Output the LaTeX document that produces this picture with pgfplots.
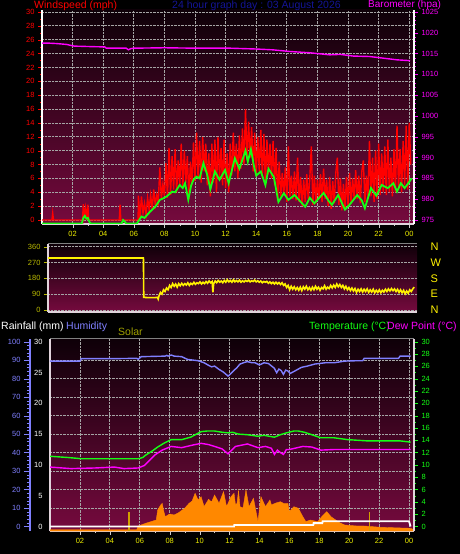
\documentclass[border=0pt]{standalone}
\usepackage{pgfplots}
\pgfplotsset{compat=1.18}
\usepackage{fontspec}
\setmainfont{Liberation Sans}
\definecolor{bgtop}{RGB}{14,0,8}
\definecolor{bgbot}{RGB}{118,10,62}
\definecolor{windred}{RGB}{255,0,0}
\definecolor{windgreen}{RGB}{20,255,20}
\definecolor{baro}{RGB}{255,0,255}
\definecolor{xlab}{RGB}{235,235,0}
\definecolor{dirlab}{RGB}{185,185,0}
\definecolor{humid}{RGB}{128,128,255}
\definecolor{solar}{RGB}{255,136,0}
\definecolor{solarlab}{RGB}{160,160,0}
\definecolor{uvbar}{RGB}{210,160,0}
\definecolor{titleblue}{RGB}{20,20,150}
\definecolor{gridc}{RGB}{165,165,165}
\definecolor{frame}{RGB}{225,212,220}
\pgfplotsset{
  base/.style={scale only axis, anchor=south west,
    tick label style={font=\fontsize{7.5}{8}\selectfont},
    /pgf/number format/assume math mode=true,
    /pgf/number format/1000 sep={},
    tick align=outside, major tick length=4pt, minor tick length=2pt},
  bg/.style={axis background/.style={shade, top color=bgtop, bottom color=bgbot}},
  gridst/.style={grid style={densely dotted, gridc, line width=0.8pt}},
  hours/.style={xtick={2,4,...,24}, xticklabels={02,04,06,08,10,12,14,16,18,20,22,00},
    minor x tick num=1, xticklabel style={xlab}, xtick style={gray!40!white}},
}
\begin{document}
\begin{tikzpicture}
\fill[black] (0,0) rectangle (460pt,554pt);
\useasboundingbox (0,0) rectangle (460pt,554pt);

% ---------------- Panel 1: wind ----------------
\begin{axis}[base, bg, gridst, hours, at={(42pt,330pt)}, width=372pt, height=214pt,
  xmin=0, xmax=24.31, ymin=-0.577, ymax=30.288,
  axis x line*=bottom, axis y line*=left,
  x axis line style={frame, line width=1.3pt},
  y axis line style={white, line width=1.5pt},
  ytick={0,2,...,30}, minor y tick num=1,
  yticklabel style={windred}, ytick style={windred},
  xmajorgrids, ymajorgrids]
\addplot[windred, line width=1.4pt] coordinates {
(0,0)(0.65,0)(0.7,1.0)(0.75,0)(2.65,0)(2.7,2.3)(2.75,0.4)(2.85,1.8)(2.95,0)(3.0,2.2)(3.05,0)
(5.05,0)(5.1,2.2)(5.15,0)(6.28,0)
(6.3,3.5)(6.4,0.3)(6.5,3.4)(6.6,1.0)(6.7,2.4)(6.8,0.8)(6.9,3.2)(7.0,1.5)(7.1,3.6)(7.2,1.6)
(7.3,4.4)(7.4,2.2)(7.5,3.6)(7.6,2.6)(7.7,7.6)(7.8,3.0)(7.9,5.2)(8.0,3.4)(8.1,8.2)(8.2,3.2)
(8.3,10.4)(8.4,3.6)(8.5,9.2)(8.6,4.4)(8.7,10.2)(8.8,4.0)(8.9,8.6)(9.0,5.0)(9.1,11.0)(9.2,4.6)
(9.3,10.0)(9.4,5.4)(9.5,9.2)(9.6,3.0)(9.7,8.4)(9.8,5.0)(9.9,11.2)(10.0,5.6)(10.1,12.6)(10.2,6.0)
(10.3,11.4)(10.4,5.4)(10.5,12.0)(10.6,7.0)(10.7,11.0)(10.8,5.0)(10.9,9.6)(11.0,3.4)(11.1,11.0)(11.2,5.4)
(11.3,11.6)(11.4,4.0)(11.5,12.0)(11.6,6.0)(11.7,10.4)(11.8,5.0)(11.9,11.6)(12.0,4.6)(12.1,9.6)(12.2,4.0)
(12.3,11.0)(12.4,6.4)(12.5,12.6)(12.6,7.0)(12.7,11.0)(12.8,6.0)(12.9,12.2)(13.0,7.4)(13.1,13.2)(13.2,8.0)
(13.3,16.0)(13.4,8.6)(13.5,14.2)(13.6,9.0)(13.7,13.4)(13.8,7.0)(13.9,12.6)(14.0,6.4)(14.1,12.0)(14.2,7.0)
(14.3,13.0)(14.4,6.0)(14.5,12.4)(14.6,5.0)(14.7,11.6)(14.8,6.6)(14.9,11.0)(15.0,6.0)(15.1,11.4)(15.2,5.0)
(15.3,10.4)(15.4,2.8)(15.5,8.4)(15.6,3.4)(15.7,6.8)(15.8,3.6)(15.9,7.6)(16.0,2.6)(16.1,10.6)(16.2,3.4)
(16.3,6.4)(16.4,3.0)(16.5,7.0)(16.6,2.8)(16.7,9.0)(16.8,2.6)(16.9,6.2)(17.0,2.0)(17.1,5.8)(17.2,2.6)
(17.3,6.6)(17.4,3.0)(17.5,6.0)(17.6,10.6)(17.7,2.2)(17.8,6.4)(17.9,2.4)(18.0,5.8)(18.1,3.0)(18.2,6.6)
(18.3,2.6)(18.4,7.4)(18.5,3.0)(18.6,5.8)(18.7,2.0)(18.8,6.2)(18.9,1.6)(19.0,5.6)(19.1,2.4)(19.2,6.8)
(19.3,9.0)(19.4,2.2)(19.5,6.0)(19.6,1.4)(19.7,5.2)(19.8,1.6)(19.9,6.2)(20.0,2.0)(20.1,6.8)(20.2,2.4)
(20.3,6.0)(20.4,3.0)(20.5,7.2)(20.6,3.0)(20.7,6.4)(20.8,2.4)(20.9,7.0)(21.0,8.6)(21.1,2.6)(21.2,6.4)
(21.3,3.0)(21.4,11.4)(21.5,3.4)(21.6,9.0)(21.7,2.6)(21.8,10.0)(21.9,3.0)(22.0,11.0)(22.1,3.6)(22.2,9.6)
(22.3,4.0)(22.4,10.6)(22.5,3.6)(22.6,11.6)(22.7,4.0)(22.8,9.0)(22.9,3.4)(23.0,10.2)(23.1,4.0)(23.2,13.6)
(23.3,4.4)(23.4,10.2)(23.5,4.0)(23.6,11.4)(23.7,5.0)(23.8,13.6)(23.9,4.4)(24.0,14.0)(24.1,8.0)};
\addplot[windgreen, line width=1.8pt] coordinates {
(0,-0.5)(2.6,-0.5)(2.7,0.3)(2.8,0.6)(2.9,0.2)(3.0,0.3)(3.1,-0.3)(3.2,-0.5)(5.2,-0.5)(5.3,0.0)(5.4,-0.2)(5.5,-0.5)(6.2,-0.5)
(6.5,0.5)(6.7,0.3)(7.06,1.2)(7.4,1.9)(7.7,2.9)(7.9,3.1)(8.15,3.4)(8.5,4.1)(8.7,4.0)(9.0,5.05)(9.2,4.6)(9.35,5.3)
(9.56,2.9)(9.75,5.0)(9.9,5.8)(10.1,6.25)(10.3,6.0)(10.55,8.2)(10.8,6.5)(11.0,4.4)(11.3,7.0)(11.6,5.8)(11.96,7.2)
(12.2,5.3)(12.6,8.9)(12.9,7.4)(13.3,10.0)(13.45,8.4)(13.65,10.2)(13.85,7.8)(14.0,6.4)(14.3,7.0)(14.6,5.05)(14.8,7.4)
(15.15,6.2)(15.45,2.6)(15.8,3.85)(16.1,2.9)(16.5,3.6)(16.75,3.0)(17.2,1.9)(17.5,3.2)(17.8,2.4)(18.4,3.9)(18.75,2.7)
(18.95,2.2)(19.35,3.6)(19.8,1.5)(20.1,2.2)(20.6,3.6)(20.9,2.8)(21.1,1.7)(21.5,4.6)(21.85,3.5)(22.2,5.05)(22.6,4.6)
(22.96,5.3)(23.2,4.1)(23.45,5.3)(23.7,4.6)(23.9,5.2)(24.16,6.0)};
\end{axis}
\begin{axis}[base, at={(42pt,330pt)}, width=372pt, height=214pt,
  xmin=0, xmax=24.31, ymin=974.04, ymax=1025.48,
  axis x line=none, axis y line*=right,
  y axis line style={white, line width=1.5pt},
  ytick={975,980,...,1025}, minor y tick num=4,
  yticklabel style={baro, inner ysep=0pt}, ytick style={baro}]
\addplot[baro, line width=1.4pt] coordinates {
(0,1017.5)(0.5,1017.5)(1.0,1017.4)(1.6,1017.2)(2.1,1016.8)(3.0,1016.7)(4.1,1016.6)(4.2,1016.3)(5.5,1016.3)
(5.65,1015.9)(5.8,1016.2)(6.0,1016.3)(8.0,1016.4)(10.0,1016.3)(12.3,1016.3)(14.0,1016.1)(15.1,1015.9)
(16.2,1015.5)(17.5,1015.2)(18.8,1014.7)(19.5,1014.8)(20.35,1014.4)(21.4,1014.3)(22.3,1013.9)(23.2,1013.5)(24.05,1013.3)};
\end{axis}

% ---------------- Panel 2: wind direction ----------------
\begin{axis}[base, bg, at={(48pt,242pt)}, width=369pt, height=68pt,
  xmin=0, xmax=24.28, ymin=-11.4, ymax=375.4,
  axis x line*=bottom, axis y line*=left,
  x axis line style={frame, line width=1.5pt},
  y axis line style={frame, line width=1.5pt},
  xtick=\empty,
  ytick={0,90,180,270,360}, yticklabel style={dirlab}, ytick style={dirlab},
  ymajorgrids, grid style={densely dotted, gridc, line width=0.7pt}]
\draw[gray, line width=1pt] (rel axis cs:0,1) -- (rel axis cs:1,1);
\addplot[yellow, line width=1.6pt] coordinates {
(0,296)(6.28,296)(6.3,72)(6.6,70)(7.0,70)(7.2,72)(7.25,62)(7.3,80)(7.4,100)(7.5,90)(7.6,115)(7.7,105)(7.8,125)
(7.9,115)(8.0,140)(8.1,128)(8.2,150)(8.3,135)(8.4,148)(8.5,130)(8.6,150)(8.7,138)(8.8,152)(8.9,140)(9.0,150)
(9.1,142)(9.2,155)(9.3,140)(9.4,152)(9.5,145)(9.6,158)(9.7,146)(9.8,155)(9.9,150)(10.0,160)(10.1,148)(10.2,158)
(10.3,150)(10.4,162)(10.5,152)(10.6,165)(10.7,155)(10.8,162)(10.85,100)(10.9,150)(11.0,165)(11.1,155)(11.2,168)
(11.3,158)(11.4,165)(11.5,155)(11.6,168)(11.7,158)(11.8,172)(11.9,160)(12.0,168)(12.1,158)(12.2,172)(12.3,160)
(12.4,168)(12.5,160)(12.6,170)(12.7,158)(12.8,166)(12.9,160)(13.0,168)(13.1,162)(13.2,170)(13.3,160)(13.4,166)
(13.5,162)(13.6,170)(13.7,160)(13.8,166)(13.9,158)(14.0,165)(14.1,155)(14.2,162)(14.3,158)(14.4,163)(14.5,152)
(14.6,160)(14.7,150)(14.8,158)(14.9,148)(15.0,158)(15.1,148)(15.2,156)(15.3,145)(15.4,155)(15.5,140)(15.6,148)
(15.7,128)(15.8,140)(15.9,115)(16.0,135)(16.1,118)(16.2,132)(16.3,115)(16.4,128)(16.5,112)(16.6,130)(16.7,110)
(16.8,132)(16.9,118)(17.0,135)(17.1,115)(17.2,128)(17.3,112)(17.4,130)(17.5,115)(17.6,135)(17.7,118)(17.8,130)
(17.9,112)(18.0,128)(18.1,120)(18.2,138)(18.3,118)(18.4,130)(18.5,122)(18.6,140)(18.7,125)(18.8,142)(18.9,128)
(19.0,148)(19.1,132)(19.2,145)(19.3,128)(19.4,140)(19.5,120)(19.6,135)(19.7,115)(19.8,128)(19.9,110)(20.0,125)
(20.1,108)(20.2,122)(20.3,100)(20.4,118)(20.5,105)(20.6,120)(20.7,102)(20.8,118)(20.9,105)(21.0,120)(21.1,100)
(21.2,115)(21.3,102)(21.4,118)(21.5,98)(21.6,112)(21.7,100)(21.8,115)(21.9,98)(22.0,112)(22.1,102)(22.2,118)
(22.3,105)(22.4,120)(22.5,108)(22.6,122)(22.7,110)(22.8,120)(22.9,105)(23.0,118)(23.1,100)(23.2,115)(23.3,98)
(23.4,112)(23.5,92)(23.6,108)(23.7,95)(23.8,115)(23.9,105)(24.0,120)(24.1,130)};
\end{axis}
\begin{axis}[base, at={(48pt,242pt)}, width=369pt, height=68pt,
  xmin=0, xmax=24.28, ymin=-11.4, ymax=375.4,
  axis x line=none, axis y line*=right, y axis line style={draw=none},
  ytick={0,90,180,270,360}, yticklabels={N,E,S,W,N}, major tick length=0pt,
  yticklabel style={yellow, font=\fontsize{11}{12}\selectfont, xshift=10pt}]
\addplot[draw=none] coordinates {(0,0)};
\end{axis}

% ---------------- Panel 3 ----------------
\begin{axis}[base, bg, gridst, hours, at={(50pt,23pt)}, width=364pt, height=192pt,
  xmin=0, xmax=24.33, ymin=-2.435, ymax=101.46,
  axis x line*=bottom, axis y line*=left,
  x axis line style={frame, line width=1.5pt},
  y axis line style={frame, line width=1.5pt},
  ytick={10,20,...,90}, yticklabel={}, ytick style={draw=none},
  xmajorgrids, ymajorgrids]
\draw[gray, line width=1pt] (rel axis cs:0,1) -- (rel axis cs:1,1);
\addplot[humid, line width=1.4pt] coordinates {
(0.0,89.5)(2.0,89.5)(2.1,90.8)(4.0,90.8)(5.8,91.0)(5.9,90.5)(6.1,91.9)(7.7,92.2)(7.8,92.6)(7.9,92.2)(8.1,92.8)
(8.3,92.2)(8.8,91.9)(9.2,90.4)(9.9,89.7)(10.3,88.6)(10.6,87.2)(10.8,86.4)(11.0,86.8)(11.3,85.0)(11.6,83.5)
(11.9,81.4)(12.0,82.0)(12.2,83.7)(12.5,86.0)(12.7,87.9)(13.0,88.8)(13.2,89.2)(13.5,88.6)(13.7,88.6)(14.0,87.4)
(14.3,88.6)(14.6,88.2)(15.0,85.6)(15.15,83.2)(15.3,85.2)(15.45,84.4)(15.6,82.3)(15.75,84.6)(15.9,84.2)(16.05,82.8)
(16.4,84.3)(16.8,86.1)(17.2,86.8)(17.7,87.9)(18.4,88.6)(19.0,88.6)(19.7,89.5)(20.5,89.7)(20.9,89.7)(21.0,91.0)
(23.3,91.0)(23.4,92.2)(24.1,92.2)};
\end{axis}
\begin{axis}[base, at={(50pt,23pt)}, width=364pt, height=192pt,
  xmin=0, xmax=24.33, ymin=0, ymax=192, hide axis]
\addplot[fill=solar, draw=solar, line width=0.4pt] coordinates {
(0,1.5)(5.8,1.5)(5.9,5)(6.4,7.7)(7.1,11)(7.2,21)(7.4,26)(7.5,27.7)(7.6,20)(7.7,14.3)(8.0,17)(8.3,16)(8.6,18.3)
(9.0,22.7)(9.3,27.7)(9.5,30)(9.7,37.7)(9.9,31)(10.1,34.3)(10.3,24.3)(10.6,31.7)(10.8,29)(11.0,36)(11.3,27.7)
(11.6,39.3)(11.8,24.3)(12.1,34.3)(12.3,37.7)(12.4,26)(12.5,27.7)(12.6,40.3)(12.7,24.3)(12.9,23)(13.1,41)
(13.3,24.3)(13.6,32.7)(13.9,9.3)(14.1,34.3)(14.4,24.3)(14.7,31)(14.8,26)(15.1,28)(15.4,29.3)(15.6,27.7)
(15.9,27.7)(16.0,19.3)(16.3,24.3)(16.6,22.7)(16.9,14.3)(17.1,9.3)(17.4,11)(17.9,9.3)(18.2,15)(18.5,19.3)
(18.8,14)(19.1,11)(19.4,8)(19.7,6)(20.5,5)(21.0,5)(22.1,3.7)(24.1,2.7)(24.3,1.5)} \closedcycle;
\addplot[ycomb, uvbar, line width=1.5pt, mark=none] coordinates {(5.28,19)(21.37,19)};
\end{axis}
\begin{axis}[base, at={(50pt,23pt)}, width=364pt, height=192pt,
  xmin=0, xmax=24.33, ymin=-0.73, ymax=30.44,
  axis x line=none, axis y line*=right,
  y axis line style={frame, line width=1.5pt},
  ytick={0,2,...,30}, minor y tick num=1,
  yticklabel style={windgreen}, ytick style={windgreen}]
\addplot[white, line width=1.8pt] coordinates {
(0,0)(12.3,0)(12.32,0.25)(17.6,0.25)(17.62,0.55)(18.2,0.55)(18.22,0.85)(24.0,0.85)(24.1,0)};
\addplot[windgreen, line width=1.4pt] coordinates {
(0.0,11.4)(0.6,11.3)(1.2,11.2)(2.1,11.0)(4.0,11.0)(5.9,11.0)(6.2,11.2)(6.4,11.6)(6.8,12.2)(7.2,12.9)(7.6,13.5)
(8.1,14.1)(8.8,14.1)(9.4,14.5)(10.1,15.4)(10.5,15.5)(11.0,15.5)(11.5,15.3)(11.9,15.2)(12.2,15.3)(12.6,15.0)
(13.2,14.9)(13.9,14.65)(14.3,14.8)(15.0,14.5)(15.4,14.9)(15.8,15.2)(16.3,15.5)(16.6,15.5)(17.0,15.3)(17.5,14.9)
(18.1,14.4)(19.0,14.4)(19.9,14.1)(21.2,13.9)(23.4,13.9)(24.1,13.7)};
\addplot[baro, line width=1.4pt] coordinates {
(0.0,9.65)(1.4,9.4)(3.0,9.5)(4.3,9.65)(4.95,9.4)(5.9,9.5)(6.3,9.9)(7.0,11.6)(7.5,12.4)(8.1,13.0)(8.8,12.8)
(9.5,13.2)(10.1,13.5)(10.6,13.3)(11.0,13.0)(11.5,12.6)(11.9,11.8)(12.4,13.0)(13.2,13.4)(13.9,12.8)(14.4,13.0)
(14.8,12.7)(15.0,11.7)(15.2,12.4)(15.4,12.0)(15.6,11.7)(15.8,12.5)(16.0,12.5)(16.9,13.0)(17.5,12.9)(18.1,12.4)
(19.0,12.5)(24.1,12.5)};
\end{axis}
\begin{axis}[base, at={(50pt,23pt)}, width=364pt, height=192pt,
  xmin=0, xmax=24.33, ymin=-0.73, ymax=30.44,
  axis x line=none, axis y line*=left, y axis line style={draw=none},
  ytick={0,5,...,30}, ytick style={draw=none},
  yticklabel style={white}]
\addplot[draw=none] coordinates {(1,1)};
\end{axis}
\begin{axis}[base, at={(30pt,23pt)}, width=0.5pt, height=192pt,
  xmin=0, xmax=1, ymin=-2.435, ymax=101.46,
  axis x line=none, axis y line*=left,
  y axis line style={humid, line width=2pt},
  ytick={0,10,...,100}, minor y tick num=4, major tick length=6pt, minor tick length=3pt,
  yticklabel style={humid}, ytick style={humid}]
\addplot[draw=none] coordinates {(0.5,50)};
\end{axis}

% ---------------- Texts ----------------
\begin{scope}[every node/.style={inner sep=0pt, anchor=base west, font=\fontsize{10.5}{12}\selectfont}]
\node[text=windred] at (34pt,545.5pt) {Windspeed (mph)};
\node[text=titleblue] at (172pt,545.5pt) {24 hour graph day : 03 August 2026};
\node[text=baro, font=\fontsize{10}{12}\selectfont] at (368pt,546.5pt) {Barometer (hpa)};
\node[text=white] at (1pt,224pt) {Rainfall (mm)};
\node[text=humid] at (66pt,224pt) {Humidity};
\node[text=solarlab] at (118pt,218.5pt) {Solar};
\node[text=windgreen] at (309pt,224.5pt) {Temperature (°C)};
\node[text=baro] at (387pt,224.5pt) {Dew Point (°C)};
\end{scope}
\end{tikzpicture}
\end{document}
